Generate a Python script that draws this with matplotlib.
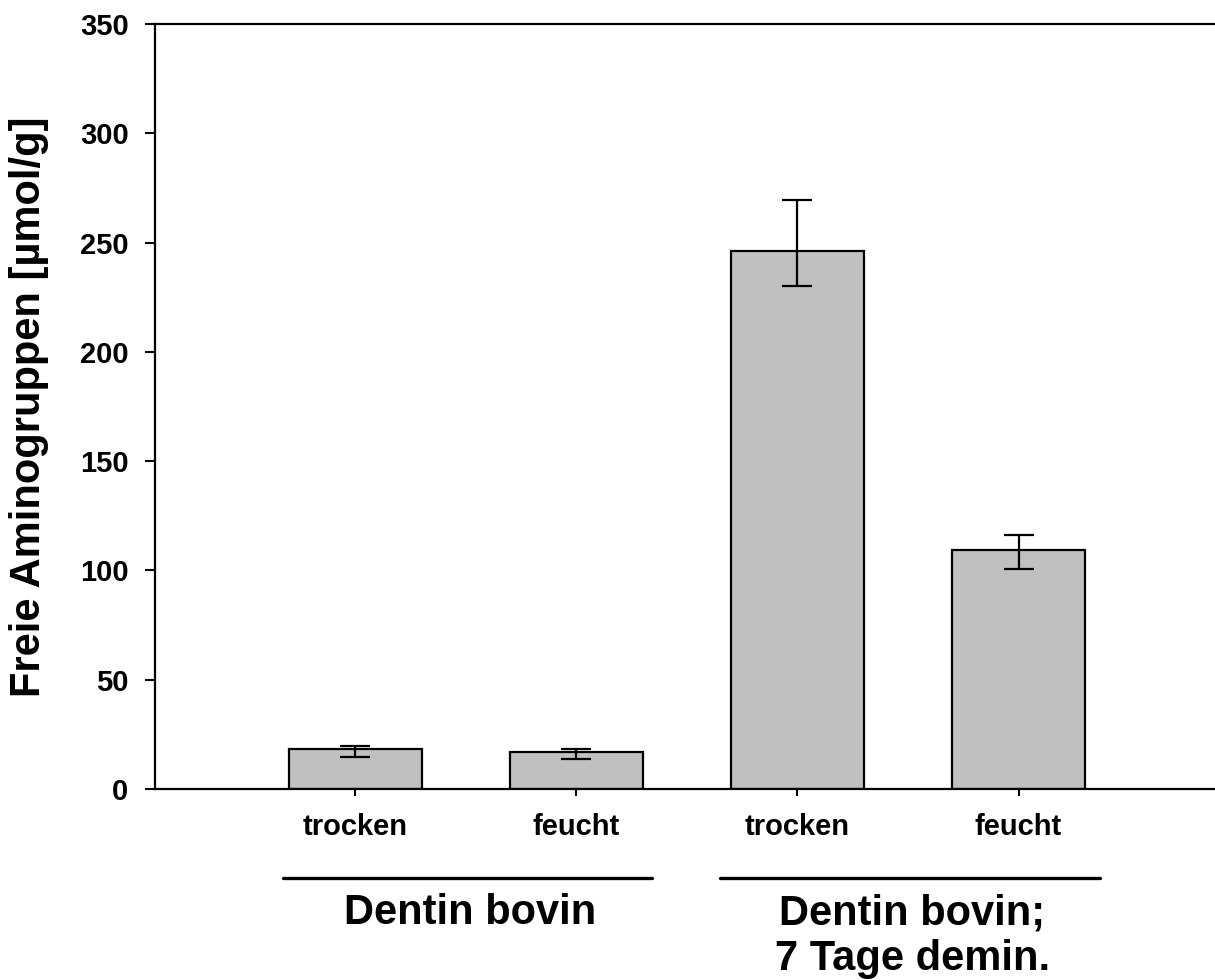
import matplotlib.pyplot as plt
from matplotlib.transforms import blended_transform_factory

plt.rcParams['font.family'] = ['Liberation Sans', 'DejaVu Sans']
plt.rcParams['font.weight'] = 'bold'

conditions = ["trocken", "feucht", "trocken", "feucht"]
groups = ["Dentin bovin", "Dentin bovin;\n7 Tage demin."]
values = [18.3, 17.0, 246.3, 109.3]
err_upper = [19.7, 18.2, 269.3, 116.4]
err_lower = [14.8, 13.9, 230.3, 100.8]

x = list(range(len(values)))
yerr = [[v - lo for v, lo in zip(values, err_lower)],
        [hi - v for v, hi in zip(values, err_upper)]]

fig = plt.figure(figsize=(12.15, 9.8), dpi=100)
ax = fig.add_axes([155 / 1215, 1 - 789 / 980, 1 - 155 / 1215, 765 / 980])

ax.bar(x, values, width=0.6, color="#c0c0c0", edgecolor="black", linewidth=1.6, zorder=2)
ax.errorbar(x, values, yerr=yerr, fmt="none", ecolor="black", elinewidth=1.6,
            capsize=11, capthick=1.6, zorder=3)

ax.set_xlim(-0.907, 3.889)
ax.set_ylim(0, 350)
ax.set_yticks(range(0, 351, 50))
ax.set_xticks(x)
ax.set_xticklabels(conditions, fontsize=21, fontweight="bold")
ax.tick_params(axis="y", labelsize=21, length=7, width=1.5, direction="out", pad=12)
ax.tick_params(axis="x", length=5, width=1.5, direction="out", pad=12)
for lab in ax.get_yticklabels():
    lab.set_fontweight("bold")

ax.spines["right"].set_visible(False)
for s in ["left", "top", "bottom"]:
    ax.spines[s].set_linewidth(1.6)

ax.set_ylabel("Freie Aminogruppen [µmol/g]", fontsize=30, fontweight="bold", labelpad=22)

trans = blended_transform_factory(ax.transData, ax.transAxes)
spans = [(-0.328, 1.342), (1.650, 3.369)]
for (x0, x1), name, cx in zip(spans, groups, [0.52, 2.52]):
    ax.plot([x0, x1], [-0.116, -0.116], transform=trans, color="black",
            linewidth=2.4, clip_on=False, solid_capstyle="round")
    ax.text(cx, -0.136, name, transform=trans, ha="center", va="top",
            multialignment="center", fontsize=30, fontweight="bold", linespacing=1.2)

fig.savefig("out.png", dpi=100)
